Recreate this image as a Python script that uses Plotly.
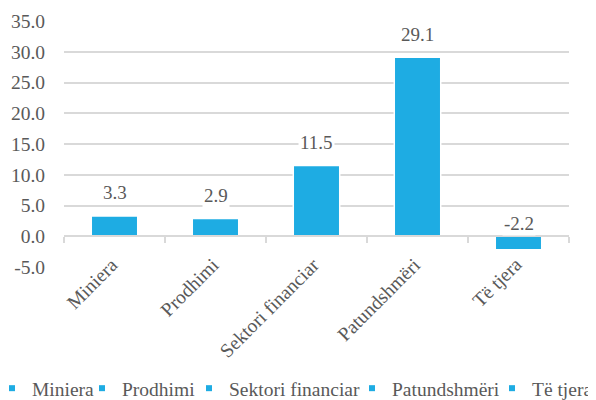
import plotly.graph_objects as go

categories = ["Miniera", "Prodhimi", "Sektori financiar", "Patundshmëri", "Të tjera"]
values = [3.3, 2.9, 11.5, 29.1, -2.2]
tick_vals = [-5, 0, 5, 10, 15, 20, 25, 30, 35]
tick_text = ["-5.0", "0.0", "5.0", "10.0", "15.0", "20.0", "25.0", "30.0", "35.0"]

BAR = "#1EACE3"
GRID = "#D9D9D9"
TXT = "#595959"
FONT = "'Liberation Serif', 'Times New Roman', serif"
FS = 19.5

# the page body adds an 8px margin, so the figure is sized to fit inside the window
W, H = 588, 392
ML, MR, MT, MB = 56, 27, 13, 133
PW = W - ML - MR
PH = H - MT - MB

# legend entry left edges in figure pixels (layout)
legend_left_px = [-16, 74, 181, 344, 484]
legend_mid_px = 380.5

fig = go.Figure()
fig.add_trace(go.Bar(
    x=categories, y=values, marker=dict(color=BAR, line=dict(color="white", width=1.5)),
    width=0.46, showlegend=False, hoverinfo="skip"))

legend_ids = ["legend"] + [f"legend{i}" for i in range(2, len(categories) + 1)]
for c, lid in zip(categories, legend_ids):
    fig.add_trace(go.Scatter(
        x=[None], y=[None], mode="markers", name=c, legend=lid,
        marker=dict(symbol="square", size=6, color=BAR)))

# invisible trace carrying the zero-line axis
fig.add_trace(go.Bar(x=categories, y=[None] * len(categories), xaxis="x2",
                     showlegend=False, hoverinfo="skip"))

for c, v in zip(categories, values):
    fig.add_annotation(
        x=c, y=max(v, 0), text=f"{v:.1f}", showarrow=False,
        yanchor="middle", yshift=23 if v > 0 else 13,
        bgcolor="white", font=dict(family=FONT, size=19, color=TXT))

for c in categories:
    fig.add_annotation(
        x=c, y=0, yref="paper", text=c, showarrow=False, textangle=-45,
        xanchor="right", yanchor="top", xshift=10, yshift=16,
        font=dict(family=FONT, size=FS, color=TXT))

leg_common = dict(orientation="h", yanchor="middle",
                  y=(H - MB - legend_mid_px) / PH, xanchor="left",
                  font=dict(family=FONT, size=FS, color=TXT), itemwidth=30,
                  bgcolor="rgba(0,0,0,0)")
layout_legends = {}
for lid, px in zip(legend_ids, legend_left_px):
    layout_legends[lid] = dict(leg_common, x=(px - ML) / PW)

fig.update_layout(
    width=W, height=H,
    margin=dict(l=ML, r=MR, t=MT, b=MB, autoexpand=False),
    plot_bgcolor="white", paper_bgcolor="white",
    barmode="overlay",
    font=dict(family=FONT, size=FS, color=TXT),
    xaxis=dict(type="category", categoryorder="array", categoryarray=categories,
               range=[-0.5, 4.5], showgrid=False, showline=False,
               ticks="", showticklabels=False),
    xaxis2=dict(type="category", categoryorder="array", categoryarray=categories,
                range=[-0.5, 4.5], overlaying="x", anchor="free", position=0.125,
                showline=True, linecolor=GRID, linewidth=1.5, ticks="outside",
                tickson="boundaries", ticklen=6, tickcolor=GRID, tickwidth=1.5,
                showticklabels=False, showgrid=False),
    yaxis=dict(range=[-5, 35], tickvals=tick_vals, ticktext=tick_text,
               showgrid=True, gridcolor=GRID, gridwidth=1.5, zeroline=False,
               showline=False, ticks="outside", ticklen=14,
               tickcolor="rgba(0,0,0,0)", tickfont=dict(family=FONT, size=FS, color=TXT)),
    **layout_legends,
)

fig.write_html("out.html")
